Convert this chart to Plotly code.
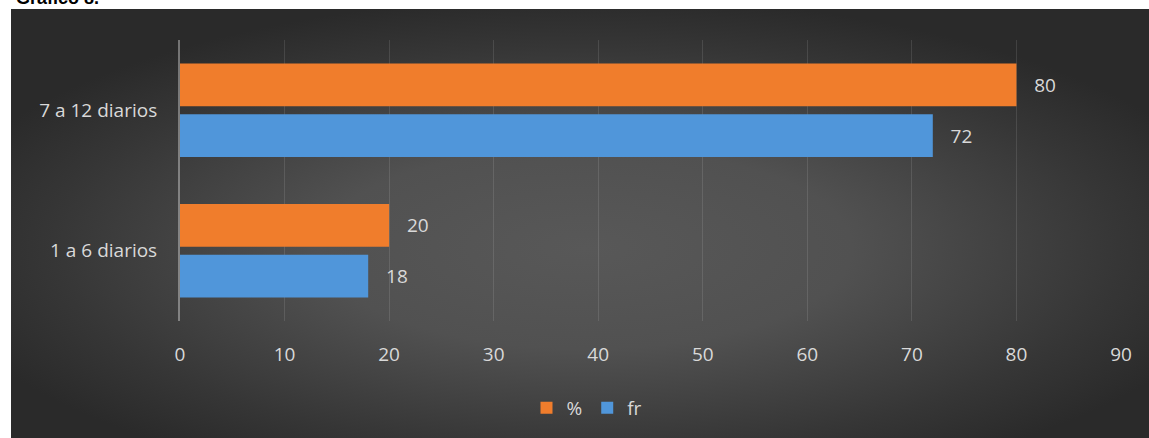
import plotly.graph_objects as go
import urllib.parse

categories = ["1 a 6 diarios", "7 a 12 diarios"]
fr_values = [18, 72]
pct_values = [20, 80]
tick_vals = [0, 10, 20, 30, 40, 50, 60, 70, 80, 90]

W, H = 1149, 438
L, R, T, B = 180, 28, 40, 116
pw, ph = W - L - R, H - T - B

def px_x(x):
    return (x - L) / pw

def px_y(y):
    return (H - B - y) / ph

svg = (
    "<svg xmlns='http://www.w3.org/2000/svg' width='1160' height='445' viewBox='0 0 1160 445' preserveAspectRatio='none'>"
    "<defs><radialGradient id='g' cx='0.5' cy='0.55' r='0.58' gradientUnits='objectBoundingBox'>"
    "<stop offset='0' stop-color='#585858'/><stop offset='0.4' stop-color='#515151'/>"
    "<stop offset='0.8' stop-color='#363636'/><stop offset='1' stop-color='#2a2a2a'/>"
    "</radialGradient></defs><rect width='1160' height='445' fill='url(#g)'/></svg>"
)
src = "data:image/svg+xml;charset=utf-8," + urllib.parse.quote(svg)

txt_font = dict(family="Open Sans, Noto Sans, sans-serif", size=19, color="#D9D9D9")

fig = go.Figure()
fig.add_trace(go.Bar(
    y=categories, x=fr_values, orientation="h", name="fr",
    marker=dict(color="#5096DA", line=dict(width=0)),
    texttemplate="\u00a0\u00a0\u00a0%{x}", textposition="outside",
    textfont=txt_font, cliponaxis=False,
))
fig.add_trace(go.Bar(
    y=categories, x=pct_values, orientation="h", name="%",
    marker=dict(color="#F07D2C", line=dict(width=0)),
    texttemplate="\u00a0\u00a0\u00a0%{x}", textposition="outside",
    textfont=txt_font, cliponaxis=False,
))

fig.update_layout(
    width=W, height=H,
    margin=dict(l=L, r=R, t=T, b=B),
    paper_bgcolor="#2a2a2a", plot_bgcolor="rgba(0,0,0,0)",
    barmode="group", bargap=0.277, bargroupgap=0.157,
    showlegend=True,
    legend=dict(orientation="h", x=px_x(587), xanchor="center", y=px_y(408), yanchor="middle",
                traceorder="reversed", font=txt_font, bgcolor="rgba(0,0,0,0)",
                itemwidth=30),
    shapes=[
        dict(type="rect", xref="paper", yref="paper", x0=px_x(0), x1=px_x(W + 5), y0=px_y(-5), y1=px_y(9),
             fillcolor="white", line=dict(width=0), layer="below"),
        dict(type="rect", xref="paper", yref="paper", x0=px_x(-5), x1=px_x(11), y0=px_y(-5), y1=px_y(H + 5),
             fillcolor="white", line=dict(width=0), layer="below"),
    ],
    images=[dict(source=src, xref="paper", yref="paper", x=px_x(11), y=px_y(9),
                 sizex=(W + 11 - 11) / pw, sizey=(H + 7 - 9) / ph, sizing="stretch",
                 xanchor="left", yanchor="top", layer="below")],
    annotations=[dict(text="<b>Gráfico 8.</b>", xref="paper", yref="paper",
                      x=px_x(14), y=px_y(10), xanchor="left", yanchor="bottom",
                      showarrow=False, font=dict(family="Liberation Sans, Arial", size=18, color="black"))],
    xaxis=dict(range=[0, 90], tickvals=tick_vals, showgrid=True,
               gridcolor="rgba(255,255,255,0.11)", gridwidth=1,
               zeroline=False, showline=False, ticks="",
               tickfont=txt_font, ticklabelstandoff=20),
    yaxis=dict(showgrid=False, zeroline=False, showline=True, linecolor="rgba(255,255,255,0.35)",
               linewidth=2, ticks="", tickfont=txt_font, ticklabelstandoff=17),
)

fig.write_html("out.html", config={"displayModeBar": False},
               post_script="document.body.style.margin='0';document.body.style.overflow='hidden';")
